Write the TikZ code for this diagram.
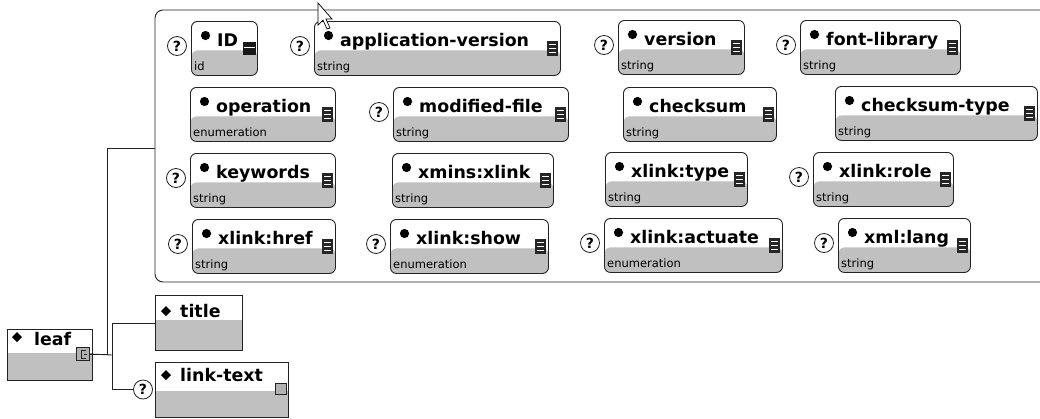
\documentclass[tikz,border=0pt]{standalone}
\usepackage{fontspec}
\setmainfont{DejaVu Sans}
\definecolor{band}{RGB}{192,192,192}
\definecolor{edge}{RGB}{35,35,35}
\tikzset{
  attrbox/.style={draw=edge, line width=0.9pt, rounded corners=6pt, fill=white, inner sep=0pt,
    anchor=north west, minimum height=54pt,
    path picture={\fill[band] ([yshift=-29pt]path picture bounding box.north west) rectangle (path picture bounding box.south east);}},
  elbox/.style={draw=edge, line width=0.9pt, fill=white, inner sep=0pt, anchor=north west,
    path picture={\fill[band] ([yshift=-#1]path picture bounding box.north west) rectangle (path picture bounding box.south east);}},
  qmark/.style={circle, draw=edge, line width=0.8pt, fill=white, inner sep=0pt, minimum size=19pt,
    font=\bfseries\fontsize{14}{14}\selectfont},
  nm/.style={anchor=base west, inner sep=0pt, font=\bfseries\fontsize{17.4}{17.4}\selectfont},
  tp/.style={anchor=base west, inner sep=0pt, font=\fontsize{11.5}{11.5}\selectfont},
  listicon/.style={rectangle, fill=black!85, minimum width=11pt, minimum height=15pt, inner sep=0pt,
    path picture={\foreach \k in {3.5,7.5,11.5}{\draw[white,line width=0.7pt] ([xshift=2pt,yshift=-\k pt]path picture bounding box.north west) -- ([xshift=-2pt,yshift=-\k pt]path picture bounding box.north east);}}},
  idicon/.style={rectangle, fill=black!90, minimum width=13pt, minimum height=13pt, inner sep=0pt,
    path picture={\draw[white,line width=1.4pt] ([xshift=1pt,yshift=-6pt]path picture bounding box.north west) -- ([xshift=-1pt,yshift=-6pt]path picture bounding box.north east);}},
  seqicon/.style={rectangle, draw=edge, line width=0.8pt, fill=black!30, minimum width=#1, minimum height=#1, inner sep=0pt},
  wire/.style={draw=edge, line width=0.9pt},
}
% #1 name, #2 x1, #3 y1, #4 x2, #5 label, #6 type, #7 question mark (1/0), #8 icon style
\newcommand\attrel[8]{%
  \node[attrbox, minimum width={#4-#2}] (#1) at (#2,#3) {};
  \fill[black] (#2+14.5,#3+14.5) circle (4.6);
  \node[nm] (#1-n) at (#2+26,#3+25) {#5};
  \node[tp] (#1-t) at (#2+3,#3+49) {#6};
  \node[#8] (#1-i) at (#4-7.5,#3+27) {};
  \ifnum#7=1 \node[qmark] (#1-q) at (#2-14,#3+25) {?};\fi
}
\begin{document}
\begin{tikzpicture}[x=1pt,y=-1pt]
\useasboundingbox (0,0) rectangle (1040,418);
\fill[white] (0,0) rectangle (1040,418);
% attribute group
\draw[wire, rounded corners=8pt] (1050,10) -- (155,10) -- (155,282) -- (1050,282);
\coordinate (grpw) at (155,148);
% attributes
\attrel{id}{191}{21}{257}{ID}{id}{1}{idicon}
\attrel{appver}{314}{21}{560}{application-version}{string}{1}{listicon}
\attrel{ver}{618}{20}{744}{version}{string}{1}{listicon}
\attrel{fontlib}{800}{20}{960}{font-library}{string}{1}{listicon}
\attrel{oper}{190}{87}{335}{operation}{enumeration}{0}{listicon}
\attrel{modf}{393}{87}{568}{modified-file}{string}{1}{listicon}
\attrel{chk}{623}{87}{776}{checksum}{string}{0}{listicon}
\attrel{chkt}{835}{86}{1037}{checksum-type}{string}{0}{listicon}
\attrel{kw}{190}{153}{335}{keywords}{string}{1}{listicon}
\attrel{xmlns}{392}{153}{553}{xmins:xlink}{string}{0}{listicon}
\attrel{xtype}{605}{152}{747}{xlink:type}{string}{0}{listicon}
\attrel{xrole}{813}{152}{953}{xlink:role}{string}{1}{listicon}
\attrel{xhref}{192}{219}{335}{xlink:href}{string}{1}{listicon}
\attrel{xshow}{390}{219}{548}{xlink:show}{enumeration}{1}{listicon}
\attrel{xact}{604}{218}{782}{xlink:actuate}{enumeration}{1}{listicon}
\attrel{xlang}{838}{218}{970}{xml:lang}{string}{1}{listicon}
% leaf
\node[elbox=24pt, minimum width=85pt, minimum height=51pt] (leaf) at (7,329) {};
\fill[black] (17,332) -- (22,337) -- (17,342) -- (12,337) -- cycle;
\node[nm] (leaf-n) at (34,345) {leaf};
\node[seqicon=13pt] (leaf-i) at (83,354) {};
\draw[edge, line width=0.8pt] (86,350) -- (81,350) -- (81,358) -- (86,358) (84,354) -- (87,354);
% title
\node[elbox=25pt, minimum width=87pt, minimum height=55pt] (title) at (155,295) {};
\fill[black] (166,306) -- (171,311) -- (166,316) -- (161,311) -- cycle;
\node[nm] (title-n) at (180,317) {title};
% link-text
\node[elbox=29pt, minimum width=133pt, minimum height=55pt] (lt) at (155,362) {};
\fill[black] (166,370) -- (171,375) -- (166,380) -- (161,375) -- cycle;
\node[nm] (lt-n) at (180,381) {link-text};
\node[seqicon=11pt] (lt-i) at (281,389) {};
\node[qmark] (lt-q) at (143,389.5) {?};
% connectors
\coordinate (seq) at (112,355);
\draw[wire] (leaf-i.east) -- ++(18,0) |- (grpw);
\draw[wire] (leaf-i.east) -- (seq);
\draw[wire] (seq) |- (title.west);
\draw[wire] (seq) |- (lt-q.west);
% mouse pointer
\draw[fill=white, line width=0.7pt] (318,3) -- (318,25) -- (323,20) -- (327,29) -- (330,28) -- (326,19) -- (332,19) -- cycle;
\end{tikzpicture}
\end{document}
